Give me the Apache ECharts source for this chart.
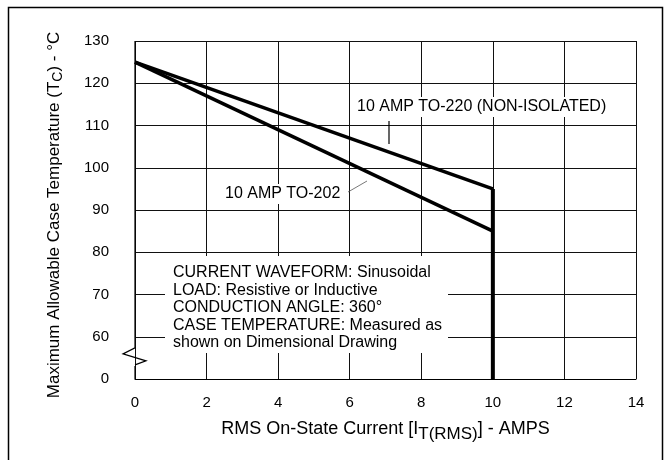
<!DOCTYPE html>
<html>
<head>
<meta charset="utf-8">
<script src="https://cdn.jsdelivr.net/npm/echarts@6/dist/echarts.min.js"></script>
<style>
html,body{margin:0;padding:0;background:#fff;}
#c{width:671px;height:460px;}
</style>
</head>
<body>
<div id="c"></div>
<script>
// ---- data ----
// x: RMS on-state current (A); y: max allowable case temperature (°C)
const xTickValues = [0, 2, 4, 6, 8, 10, 12, 14];
const yTickLabels = ['0', '60', '70', '80', '90', '100', '110', '120', '130'];
const to220Current = [0, 10];
const to220Temp = [125, 95];
const to202Current = [0, 10];
const to202Temp = [125, 85];
const limitCurrent = [10, 10];
const limitTemp = [95, 0];   // 0 sits at the bottom of the broken axis
const seriesNames = ['10 AMP TO-220 (NON-ISOLATED)', '10 AMP TO-202'];
const noteLines = [
  'CURRENT WAVEFORM: Sinusoidal',
  'LOAD: Resistive or Inductive',
  'CONDUCTION ANGLE: 360°',
  'CASE TEMPERATURE: Measured as',
  'shown on Dimensional Drawing'
];

// broken axis: the "0" label occupies the slot just below 60
const AXIS_ZERO = 50;
const mapY = v => (v === 0 ? AXIS_ZERO : v);
const pair = (xs, ys) => xs.map((x, i) => [x, mapY(ys[i])]);

const FONT = '"Liberation Sans", Arial, Helvetica, sans-serif';
const chart = echarts.init(document.getElementById('c'), null, {renderer: 'canvas'});

const option = {
  backgroundColor: '#fff',
  animation: false,
  grid: {left: 135, right: 35, top: 41, bottom: 81, containLabel: false},
  xAxis: {
    type: 'value', min: xTickValues[0], max: xTickValues[xTickValues.length - 1], interval: 2,
    axisLine: {show: true, lineStyle: {color: '#000', width: 1}},
    axisTick: {show: false},
    splitLine: {show: true, lineStyle: {color: '#111', width: 1}},
    axisLabel: {color: '#000', fontFamily: FONT, fontSize: 15, margin: 16},
    name: '{a|RMS On-State Current [I}{s|T(RMS)}{a|] - AMPS}',
    nameLocation: 'middle', nameGap: 37,
    nameTextStyle: {
      rich: {
        a: {fontFamily: FONT, fontSize: 18, color: '#000'},
        s: {fontFamily: FONT, fontSize: 17, color: '#000', padding: [10, 0, 0, 0]}
      }
    }
  },
  yAxis: {
    type: 'value', min: AXIS_ZERO, max: 130, interval: 10,
    axisLine: {show: false},
    axisTick: {show: false},
    splitLine: {show: true, lineStyle: {color: '#111', width: 1}},
    axisLabel: {
      color: '#000', fontFamily: FONT, fontSize: 15, margin: 26,
      formatter: v => yTickLabels[Math.round((v - AXIS_ZERO) / 10)]
    },
    name: '{a|Maximum Allowable Case Temperature (T}{s|C}{a|) - °C}',
    nameLocation: 'middle', nameGap: 70, nameRotate: 90,
    nameTextStyle: {
      padding: [0, 10, 0, 0],
      rich: {
        a: {fontFamily: FONT, fontSize: 17, color: '#000'},
        s: {fontFamily: FONT, fontSize: 14, color: '#000', padding: [8, 0, 0, 0]}
      }
    }
  },
  series: [
    {name: seriesNames[0], type: 'line', data: pair(to220Current, to220Temp), symbol: 'none',
     lineStyle: {color: '#000', width: 3.5}, z: 5},
    {name: seriesNames[1], type: 'line', data: pair(to202Current, to202Temp), symbol: 'none',
     lineStyle: {color: '#000', width: 3.5}, z: 5},
    {name: 'limit', type: 'line', data: pair(limitCurrent, limitTemp), symbol: 'none',
     lineStyle: {color: '#000', width: 4}, z: 5}
  ]
};
chart.setOption(option);

function drawDecor() {
  const P = (x, y) => chart.convertToPixel({gridIndex: 0}, [x, y]);
  const [ax, yTop] = P(0, 130);
  const [, yBot] = P(0, AXIS_ZERO);
  const [, yMid] = P(0, 55);
  const g = [];
  // outer frame
  g.push({type: 'rect', shape: {x: 8.5, y: 7.5, width: 654, height: 470}, style: {fill: null, stroke: '#000', lineWidth: 1.5}, z: 10, silent: true});
  // y axis line with break
  g.push({type: 'polyline', shape: {points: [[ax, yTop], [ax, yMid - 10], [ax - 12, yMid - 4], [ax + 11, yMid + 3], [ax, yMid + 7]]},
          style: {stroke: '#000', lineWidth: 1.2, fill: null}, z: 10});
  g.push({type: 'line', shape: {x1: ax, y1: yMid + 8, x2: ax, y2: yBot}, style: {stroke: '#000', lineWidth: 1.2}, z: 10});
  // note box
  g.push({type: 'rect', shape: {x: 165, y: 256, width: 283, height: 97}, style: {fill: '#fff'}, z: 3});
  noteLines.forEach((t, i) => {
    g.push({type: 'text', x: 173, y: 273 + i * 17.5,
            style: {text: t, font: '16px ' + FONT, fill: '#000', verticalAlign: 'middle', align: 'left'}, z: 4});
  });
  // TO-220 label
  g.push({type: 'rect', shape: {x: 352, y: 97, width: 256, height: 20}, style: {fill: '#fff'}, z: 3});
  g.push({type: 'text', x: 357, y: 107, style: {text: seriesNames[0], font: '16px ' + FONT, fill: '#000', verticalAlign: 'middle'}, z: 4});
  g.push({type: 'line', shape: {x1: 389, y1: 121, x2: 389, y2: 144}, style: {stroke: '#000', lineWidth: 1.2}, z: 4});
  // TO-202 label
  g.push({type: 'rect', shape: {x: 220, y: 184, width: 124, height: 20}, style: {fill: '#fff'}, z: 3});
  g.push({type: 'text', x: 225, y: 194, style: {text: seriesNames[1], font: '16px ' + FONT, fill: '#000', verticalAlign: 'middle'}, z: 4});
  g.push({type: 'line', shape: {x1: 348, y1: 192, x2: 367, y2: 181}, style: {stroke: '#555', lineWidth: 0.8}, z: 4});
  chart.setOption({graphic: {elements: g}});
}
drawDecor();
</script>
</body>
</html>
